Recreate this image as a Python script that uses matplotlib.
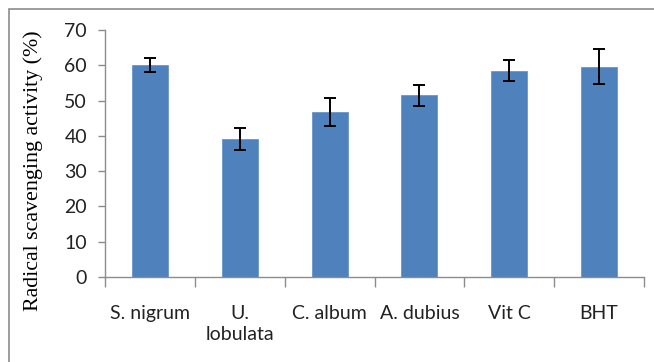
import matplotlib
matplotlib.use("Agg")
import matplotlib.pyplot as plt
from matplotlib.patches import Rectangle
import numpy as np

categories = ["S. nigrum", "U.\nlobulata", "C. album", "A. dubius", "Vit C", "BHT"]
values = [60.0, 39.2, 46.8, 51.5, 58.5, 59.6]
errors = [2.0, 3.1, 4.0, 3.0, 3.0, 5.0]

fig = plt.figure(figsize=(6.54, 3.62), dpi=100)
ax = fig.add_axes([105/654, 1-277/362, (644-105)/654, (277-30)/362])

# outer chart frame (cut off at right/bottom like the original)
fig.patches.append(Rectangle((9/654, -0.05), 1.0, 1 - 9/362 + 0.05, transform=fig.transFigure,
                             fill=False, edgecolor="#8c8c8c", linewidth=1.2))

x = np.arange(len(categories))
ax.bar(x, values, width=0.4, color="#4F81BD", edgecolor="#6a95c8", linewidth=0.6)
ax.errorbar(x, values, yerr=errors, fmt="none", ecolor="black", elinewidth=1.4,
            capsize=4, capthick=1.4)

ax.set_xlim(-0.5, len(categories) - 0.5)
ax.set_ylim(0, 70)
ax.set_yticks(range(0, 71, 10))
ax.set_xticks(x)
ax.set_xticklabels(categories, fontfamily="Lato", fontsize=14, color="#222222",
                   linespacing=1.3)
ax.set_xticks(np.arange(-0.5, len(categories)), minor=True)
ax.tick_params(axis="x", which="major", length=0, pad=20)
ax.tick_params(axis="x", which="minor", length=7, color="#8c8c8c", width=1)
ax.tick_params(axis="y", length=5, color="#8c8c8c", width=1, pad=8)
for lab in ax.get_yticklabels():
    lab.set_fontfamily("Lato")
    lab.set_fontsize(14)
    lab.set_color("#222222")

for s in ["top", "right"]:
    ax.spines[s].set_visible(False)
for s in ["left", "bottom"]:
    ax.spines[s].set_color("#8c8c8c")
    ax.spines[s].set_linewidth(1)

ax.set_ylabel("Radical scavenging activity (%)", fontfamily="Liberation Serif",
              fontsize=15.8)
ax.yaxis.set_label_coords(-0.115, 0.43)

fig.savefig("out.png", dpi=100)
